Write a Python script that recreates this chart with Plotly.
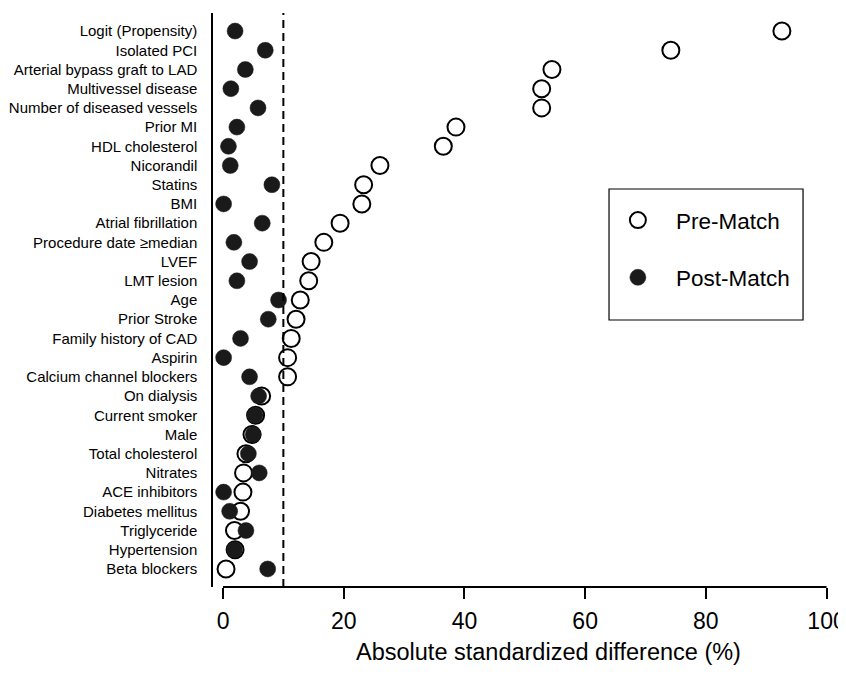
import plotly.graph_objects as go

# ---- data (top row first) ----
covariates = [
    "Logit (Propensity)", "Isolated PCI", "Arterial bypass graft to LAD",
    "Multivessel disease", "Number of diseased vessels", "Prior MI",
    "HDL cholesterol", "Nicorandil", "Statins", "BMI", "Atrial fibrillation",
    "Procedure date \u2265median", "LVEF", "LMT lesion", "Age", "Prior Stroke",
    "Family history of CAD", "Aspirin", "Calcium channel blockers",
    "On dialysis", "Current smoker", "Male", "Total cholesterol", "Nitrates",
    "ACE inhibitors", "Diabetes mellitus", "Triglyceride", "Hypertension",
    "Beta blockers",
]
pre_match = [
    92.6, 74.2, 54.5, 52.8, 52.8, 38.6, 36.5, 26.0, 23.3, 23.0, 19.4,
    16.7, 14.6, 14.2, 12.8, 12.1, 11.3, 10.7, 10.7, 6.4, 5.4, 4.8, 3.8,
    3.4, 3.3, 2.9, 1.9, 2.0, 0.5,
]
post_match = [
    2.0, 7.0, 3.7, 1.3, 5.8, 2.3, 0.9, 1.2, 8.1, 0.1, 6.5,
    1.8, 4.4, 2.3, 9.2, 7.5, 2.9, 0.1, 4.4, 5.9, 5.3, 5.0, 4.2,
    6.0, 0.1, 1.1, 3.8, 1.9, 7.4,
]
x_ticks = [0, 20, 40, 60, 80, 100]
threshold = 10
x_title = "Absolute standardized difference (%)"

FONT = "Arial, Liberation Sans, Helvetica, sans-serif"

fig = go.Figure()
fig.add_trace(go.Scatter(
    x=pre_match, y=covariates, mode="markers", name="Pre-Match",
    legendgroup="pre",
    marker=dict(symbol="circle-open", size=17, color="black",
                line=dict(width=2, color="black")),
    cliponaxis=False,
))
fig.add_trace(go.Scatter(
    x=post_match, y=covariates, mode="markers", name="Post-Match",
    legendgroup="post",
    marker=dict(symbol="circle", size=16, color="#1a1a1a",
                line=dict(width=0.5, color="#1a1a1a")),
    cliponaxis=False,
))

# dashed reference line
fig.add_shape(type="line", xref="x", yref="paper", x0=threshold, x1=threshold,
              y0=0, y1=1, line=dict(color="black", width=2, dash="8px,5px"))
# x-axis line spanning the tick range only
fig.add_shape(type="line", xref="x", yref="paper", x0=x_ticks[0], x1=x_ticks[-1],
              y0=0, y1=0, line=dict(color="black", width=2))
# legend frame
fig.add_shape(type="rect", xref="paper", yref="paper",
              x0=0.6367, x1=0.9486, y0=0.4652, y1=0.6934,
              line=dict(color="black", width=1.2), fillcolor="rgba(0,0,0,0)")

# x-axis title
fig.add_annotation(text=x_title, xref="paper", yref="paper", x=0.5386, y=-0.113,
                   xanchor="center", yanchor="middle", showarrow=False,
                   font=dict(size=23.5, family=FONT, color="black"))

n = len(covariates)
fig.update_layout(
    width=838, height=658,
    margin=dict(l=205, r=11, t=5, b=79, autoexpand=False),
    paper_bgcolor="white", plot_bgcolor="white",
    font=dict(family=FONT, color="black"),
    showlegend=True,
    legend=dict(
        x=0.622, y=0.676, xanchor="left", yanchor="top",
        borderwidth=0, bgcolor="rgba(0,0,0,0)",
        font=dict(size=22.5, family=FONT, color="black"),
        tracegroupgap=25, traceorder="grouped", itemwidth=66,
    ),
    xaxis=dict(
        range=[-1.66, 101.4], showgrid=False, zeroline=False, showline=False,
        automargin=False,
        tickvals=x_ticks, ticks="outside", ticklen=11, tickwidth=2,
        tickcolor="black", tickfont=dict(size=23, family=FONT),
        ticklabelstandoff=2, ticklabeloverflow="allow",
    ),
    yaxis=dict(
        type="category", categoryorder="array", categoryarray=covariates,
        range=[n - 1 + 0.94, -0.94], showgrid=False, zeroline=False,
        automargin=False,
        showline=True, linecolor="black", linewidth=1.5, ticks="",
        ticklabelstandoff=11, tickfont=dict(size=15, family=FONT),
    ),
)

fig.write_html("out.html")
